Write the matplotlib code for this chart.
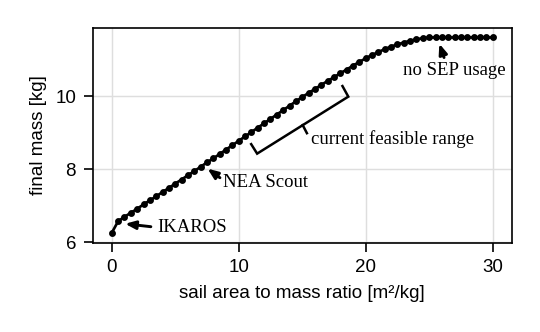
import matplotlib
matplotlib.use("Agg")
import matplotlib.pyplot as plt

# ---- data ----
ratio = [0.0, 0.5, 1.0, 1.5, 2.0, 2.5, 3.0, 3.5, 4.0, 4.5, 5.0, 5.5, 6.0, 6.5,
         7.0, 7.5, 8.0, 8.5, 9.0, 9.5, 10.0, 10.5, 11.0, 11.5, 12.0, 12.5, 13.0,
         13.5, 14.0, 14.5, 15.0, 15.5, 16.0, 16.5, 17.0, 17.5, 18.0, 18.5, 19.0,
         19.5, 20.0, 20.5, 21.0, 21.5, 22.0, 22.5, 23.0, 23.5, 24.0, 24.5, 25.0,
         25.5, 26.0, 26.5, 27.0, 27.5, 28.0, 28.5, 29.0, 29.5, 30.0]
final_mass = [6.26, 6.58, 6.70, 6.81, 6.92, 7.04, 7.15, 7.26, 7.38, 7.49, 7.61,
              7.72, 7.84, 7.95, 8.07, 8.19, 8.30, 8.42, 8.54, 8.66, 8.78, 8.90,
              9.02, 9.14, 9.26, 9.38, 9.50, 9.62, 9.74, 9.86, 9.98, 10.09, 10.20,
              10.31, 10.42, 10.52, 10.63, 10.73, 10.84, 10.94, 11.04, 11.13,
              11.21, 11.29, 11.36, 11.42, 11.47, 11.52, 11.56, 11.59, 11.61,
              11.61, 11.61, 11.61, 11.61, 11.61, 11.61, 11.61, 11.61, 11.61, 11.61]

xticks = [0, 10, 20, 30]
yticks = [6, 8, 10]

# annotation anchors (data coordinates)
ikaros_text = (3.6, 6.294)
ikaros_tip, ikaros_tail = (1.05, 6.51), (3.08, 6.43)
nea_text = (8.74, 7.515)
nea_tip, nea_tail = (7.54, 8.02), (8.52, 7.77)
sep_text = (22.95, 10.585)
sep_tip, sep_tail = (25.8, 11.44), (26.17, 11.06)
range_text = (15.72, 8.69)
bracket_x = [10.98, 11.45, 18.63, 18.17]
bracket_y = [8.69, 8.43, 9.99, 10.28]
midtick_x = [15.04, 15.37]
midtick_y = [9.21, 8.99]

sans = ["Liberation Sans", "DejaVu Sans"]
serif = ["Liberation Serif", "DejaVu Serif"]
plt.rcParams["font.family"] = sans
plt.rcParams["font.size"] = 9

fig = plt.figure(figsize=(540 / 150, 332 / 150), dpi=150)
ax = fig.add_axes([0.1717, 0.269, 0.7759, 0.6476])

ax.plot(ratio, final_mass, color="black", lw=1.3, marker="o", ms=2.3, zorder=3)

ax.set_xticks(xticks)
ax.set_yticks(yticks)
ax.grid(True, color="#dedede", lw=0.7)
ax.set_axisbelow(True)
ax.tick_params(direction="out", length=4.5, width=0.8, colors="black", labelsize=9)
for s in ax.spines.values():
    s.set_linewidth(0.8)
    s.set_color("black")

ax.set_xlabel("sail area to mass ratio [m²/kg]", fontsize=9)
ax.set_ylabel("final mass [kg]", fontsize=9)

arrow = dict(arrowstyle="-|>,head_length=0.45,head_width=0.18", color="black",
             lw=1.4, shrinkA=0, shrinkB=0)
for tip, tail in [(ikaros_tip, ikaros_tail), (nea_tip, nea_tail), (sep_tip, sep_tail)]:
    ax.annotate("", xy=tip, xytext=tail, arrowprops=arrow)

ax.text(*ikaros_text, "IKAROS", family=serif, fontsize=9, ha="left", va="baseline")
ax.text(*nea_text, "NEA Scout", family=serif, fontsize=9, ha="left", va="baseline")
ax.text(*sep_text, "no SEP usage", family=serif, fontsize=9, ha="left", va="baseline")
ax.text(*range_text, "current feasible range", family=serif, fontsize=9,
        ha="left", va="baseline")

ax.plot(bracket_x, bracket_y, color="black", lw=1.2, solid_joinstyle="miter")
ax.plot(midtick_x, midtick_y, color="black", lw=1.2)

fig.savefig("out.png", dpi=150)
